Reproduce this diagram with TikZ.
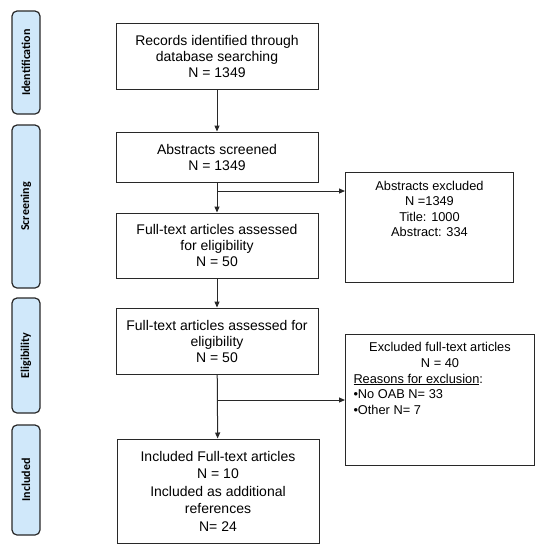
\documentclass[tikz,border=0pt]{standalone}
\usepackage{fontspec}
\setmainfont{Liberation Sans}
\newfontfamily\sidefont{Carlito}
\usetikzlibrary{arrows.meta}
\definecolor{sideblue}{RGB}{208,232,250}
\definecolor{lc}{RGB}{40,40,40}
\tikzset{
  side/.style={draw=lc, line width=1.2pt, fill=sideblue, rounded corners=5pt, minimum width=28pt, inner sep=0pt},
  sidetext/.style={font=\sidefont\bfseries\fontsize{12}{14}\selectfont, rotate=90},
  mainbox/.style={draw=lc, line width=1pt, minimum width=202pt, align=center, inner sep=0pt, font=\fontsize{14}{16}\selectfont},
  exbox/.style={draw=lc, line width=1pt, inner sep=0pt, anchor=north west},
  arr/.style={draw=lc, line width=1pt, -{Triangle[length=6pt,width=5pt]}},
  ln/.style={draw=lc, line width=1pt}
}
\begin{document}
\begin{tikzpicture}[x=1pt,y=1pt]
\useasboundingbox (0,0) rectangle (544,-550);
% side labels
\node[side, minimum height=103pt] (s1) at (26,-62.5) {};
\node[sidetext] (t1) at (s1) {Identification};
\node[side, minimum height=163pt] (s2) at (26,-206.5) {};
\node[sidetext] (t2) at (s2) {Screening};
\node[side, minimum height=115pt] (s3) at (26,-355.5) {};
\node[sidetext] (t3) at (s3) {Eligibility};
\node[side, minimum height=110pt] (s4) at (26,-480) {};
\node[sidetext] (t4) at (s4) {Included};
% main boxes
\node[mainbox, minimum height=66pt] (b1) at (217,-56) {Records identified through\\database searching\\N = 1349};
\node[mainbox, minimum height=50pt] (b2) at (217,-157) {Abstracts screened\\N = 1349};
\node[mainbox, minimum height=65pt] (b3) at (217,-245.5) {Full-text articles assessed\\for eligibility\\N = 50};
\node[mainbox, minimum height=66pt] (b4) at (217,-341) {Full-text articles assessed for\\eligibility\\N = 50};
\node[mainbox, minimum height=104pt, font=\fontsize{14}{17.5}\selectfont] (b5) at (218,-491) {Included Full-text articles\\N = 10\\Included as additional\\references\\N= 24};
% excluded boxes
\node[exbox, minimum width=168pt, minimum height=110pt] (e1) at (345,-172) {};
\node[anchor=north, align=center, inner sep=0pt, font=\fontsize{12.8}{15.5}\selectfont] (e1t) at ([yshift=-9pt]e1.north) {Abstracts excluded\\N =1349\\Title: 1000\\Abstract: 334};
\node[exbox, minimum width=189pt, minimum height=131pt] (e2) at (345,-334) {};
\node[anchor=north, inner sep=0pt, font=\fontsize{12.8}{15.8}\selectfont] (e2t) at ([yshift=-8pt]e2.north) {\parbox[t]{173pt}{\centering Excluded full-text articles\\N = 40\par
\raggedright\underline{Reasons for exclusion}:\\
•No OAB N= 33\\
•Other N= 7}};
% connectors
\coordinate (j1) at (217,-191);
\coordinate (j2) at (217,-400);
\draw[arr] (b1) -- (b2);
\draw[arr] (b2) -- (b3);
\draw[arr] (j1) -- (e1.west |- j1);
\draw[arr] (b3) -- (b4);
\draw[arr] (b4) -- (b5);
\draw[arr] (j2) -- (e2.west |- j2);
\end{tikzpicture}
\end{document}
